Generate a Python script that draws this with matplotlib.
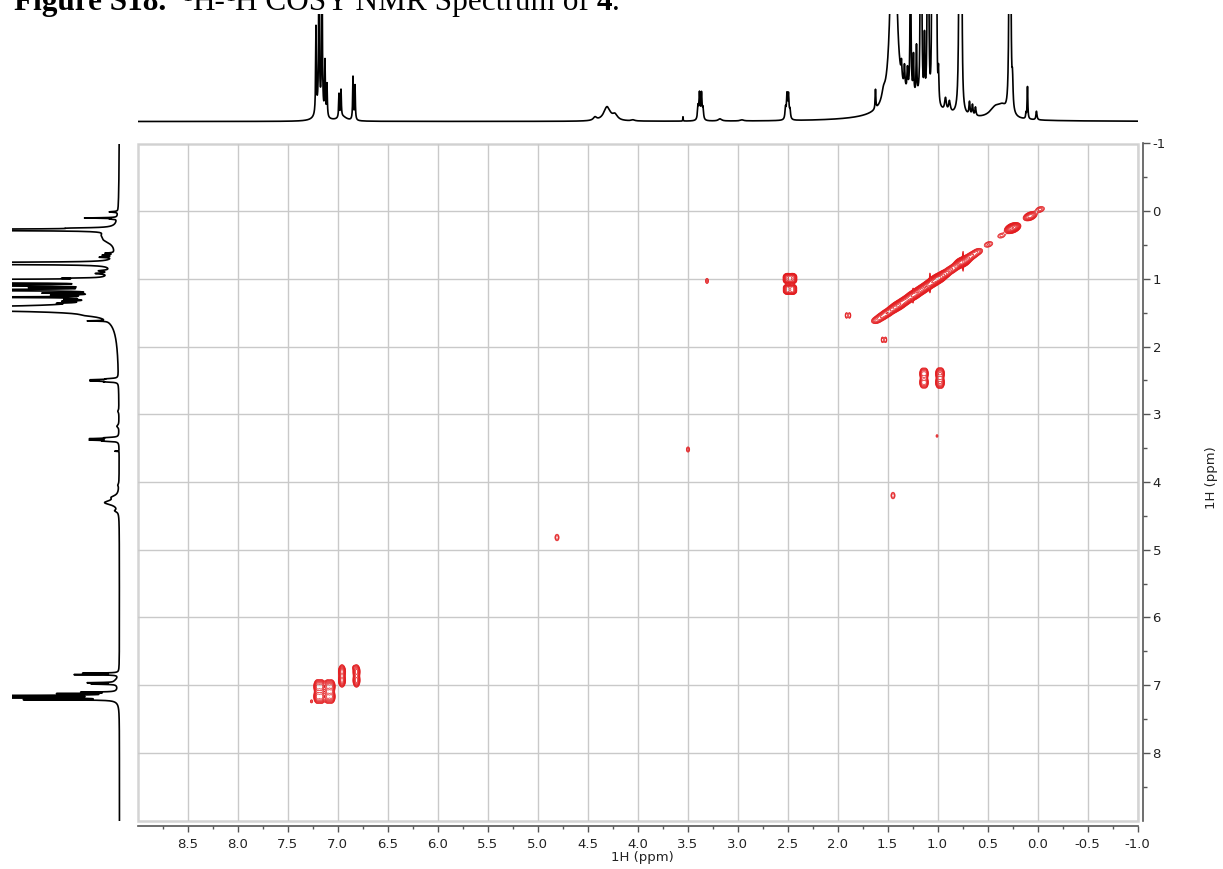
import numpy as np
import matplotlib
matplotlib.use("Agg")
import matplotlib.pyplot as plt
from matplotlib.patches import Rectangle
from matplotlib.ticker import FixedLocator, FuncFormatter

plt.rcParams["axes.unicode_minus"] = False
plt.rcParams["font.family"] = "DejaVu Sans"

# 1D projection peaks (ppm, height relative to clip level, HWHM in ppm)
proj_ppm = [7.215, 7.185, 7.155, 7.125, 7.105, 7.18, 6.985, 6.965, 6.95, 6.845, 6.825,
            4.425, 4.305, 4.225, 4.045, 3.545, 3.395, 3.38, 3.36, 3.345, 3.175, 2.955,
            2.52, 2.505, 2.49, 2.475,
            1.62, 1.54, 1.44, 1.36, 1.33, 1.30, 1.27, 1.24, 1.21, 1.17, 1.16, 1.13, 1.10,
            1.09, 1.055, 1.04, 1.025, 1.01, 0.99, 0.92, 0.88, 1.25,
            0.78, 0.76, 0.68, 0.65, 0.62, 0.42, 0.35, 0.28, 0.27, 0.25, 0.115, 0.10, 0.01]
proj_h = [0.80, 1.60, 1.60, 0.50, 0.30, 0.10, 0.22, 0.25, 0.04, 0.40, 0.32,
          0.03, 0.13, 0.05, 0.01, 0.04, 0.12, 0.24, 0.24, 0.10, 0.02, 0.01,
          0.10, 0.22, 0.22, 0.08,
          0.18, 0.08, 3.00, 0.15, 0.20, 0.20, 2.00, 0.35, 0.45, 2.00, 2.00, 0.55, 2.00,
          2.00, 2.00, 2.00, 2.00, 2.00, 0.30, 0.12, 0.10, 0.18,
          3.00, 2.50, 0.12, 0.10, 0.08, 0.10, 0.08, 3.00, 2.00, 0.25, 0.05, 0.30, 0.08]
proj_w = [0.004, 0.004, 0.004, 0.004, 0.004, 0.04, 0.004, 0.004, 0.05, 0.004, 0.004,
          0.02, 0.04, 0.03, 0.02, 0.002, 0.006, 0.006, 0.006, 0.006, 0.02, 0.02,
          0.006, 0.006, 0.006, 0.006,
          0.004, 0.02, 0.025, 0.005, 0.005, 0.005, 0.004, 0.004, 0.004, 0.004, 0.004, 0.004, 0.004,
          0.004, 0.004, 0.004, 0.004, 0.004, 0.005, 0.01, 0.01, 0.25,
          0.006, 0.005, 0.006, 0.006, 0.006, 0.07, 0.05, 0.005, 0.005, 0.006, 0.004, 0.004, 0.006]

# diagonal ridge of the COSY map (ppm, amplitude)
diag_ppm = [-0.025, 0.065, 0.085, 0.24, 0.26, 0.36, 0.49, 0.60, 0.65, 0.70, 0.745, 0.765,
            0.82, 0.87, 0.93, 0.98, 1.01, 1.05, 1.09, 1.13, 1.17, 1.21, 1.245, 1.29,
            1.33, 1.37, 1.405, 1.45, 1.505, 1.555, 1.605]
diag_amp = [0.10, 0.25, 0.20, 0.80, 0.60, 0.07, 0.09, 0.15, 0.20, 0.30, 1.00, 0.80,
            0.25, 0.30, 0.50, 1.00, 1.00, 0.90, 0.60, 0.60, 0.70, 0.50, 0.80, 0.45,
            0.50, 0.55, 0.70, 0.45, 0.40, 0.30, 0.20]

# off-diagonal cross peaks: F2 ppm, F1 ppm, amplitude, sigma F2, sigma F1
cross_x = [2.45, 2.50, 2.45, 2.50, 2.45, 2.50, 2.45, 2.50,
           3.305, 1.91, 1.88, 1.55, 1.52,
           1.12, 1.15, 1.12, 1.15, 0.96, 0.99, 0.96, 0.99,
           1.005, 3.495, 1.445, 4.805,
           7.20, 7.20, 7.16, 7.16, 7.10, 7.10, 7.06, 7.06,
           6.955, 6.955, 6.81, 6.81, 6.835, 7.26]
cross_y = [0.97, 0.97, 1.02, 1.02, 1.13, 1.13, 1.18, 1.18,
           1.03, 1.54, 1.54, 1.90, 1.90,
           2.40, 2.40, 2.53, 2.53, 2.40, 2.40, 2.53, 2.53,
           3.32, 3.52, 4.20, 4.82,
           7.02, 7.17, 7.02, 7.17, 7.02, 7.17, 7.02, 7.17,
           6.80, 6.93, 6.80, 6.93, 6.74, 7.24]
cross_amp = [0.6, 0.6, 0.6, 0.6, 0.5, 0.5, 0.5, 0.5,
             0.07, 0.08, 0.08, 0.08, 0.08,
             0.25, 0.25, 0.25, 0.25, 0.3, 0.3, 0.3, 0.3,
             0.05, 0.07, 0.08, 0.08,
             0.4, 0.4, 0.4, 0.4, 0.35, 0.35, 0.35, 0.35,
             0.4, 0.4, 0.4, 0.4, 0.06, 0.06]
cross_sx = [0.018] * 8 + [0.012, 0.010, 0.010, 0.010, 0.010] + [0.014] * 8 + \
           [0.010, 0.013, 0.015, 0.015] + [0.017] * 8 + [0.016] * 4 + [0.010, 0.010]
cross_sy = [0.022] * 8 + [0.030, 0.030, 0.030, 0.030, 0.030] + [0.04] * 8 + \
           [0.020, 0.030, 0.035, 0.035] + [0.045] * 8 + [0.045] * 4 + [0.020, 0.020]

# t1 noise streaks through the strongest diagonal lines (F2 ppm, F1 centre)
streak_x = [0.745, 1.075, 1.245]
streak_y = [0.74, 1.06, 1.25]
streak_amp = [0.12, 0.12, 0.06]

W, H = 1223, 869
fig = plt.figure(figsize=(W / 100, H / 100), dpi=100)
PT = 72 / 100  # points per pixel


def fx(px):
    return px / W


def fy(py):
    return 1 - py / H


ax = fig.add_axes([fx(137.5), fy(820.5), 1000 / W, 677 / H])
ax_top = fig.add_axes([fx(137.5), fy(125), 1000 / W, 111 / H])
ax_left = fig.add_axes([fx(12), fy(820.5), 112 / W, 677 / H])

# --- 1D projection trace ---
ppm = np.linspace(-1.0, 9.0, 20001)
spec = np.zeros_like(ppm)
for p, h, w in zip(proj_ppm, proj_h, proj_w):
    spec += h * w ** 2 / ((ppm - p) ** 2 + w ** 2)

ax_top.plot(ppm, spec, color="black", lw=1.2)
ax_top.set_xlim(9.0, -1.0)
ax_top.set_ylim(-0.0325, 1.0)
ax_top.axis("off")

ax_left.plot(spec, ppm, color="black", lw=1.2)
ax_left.set_ylim(9.0, -1.0)
ax_left.set_xlim(1.0, -0.042)
ax_left.axis("off")

# --- 2D map ---
x2 = np.arange(-1.0, 9.0 + 1e-9, 0.004)
y2 = np.arange(-1.0, 9.0 + 1e-9, 0.006)
Z = np.zeros((len(y2), len(x2)))


def add_peak(x0, y0, amp, sx, sy, diagonal=False):
    r = 6 * max(sx, sy)
    ix = np.where(np.abs(x2 - x0) < r)[0]
    iy = np.where(np.abs(y2 - y0) < r)[0]
    if len(ix) == 0 or len(iy) == 0:
        return
    X, Y = np.meshgrid(x2[ix], y2[iy])
    dx, dy = X - x0, Y - y0
    if diagonal:
        u = (dx + dy) / np.sqrt(2)
        v = (dx - dy) / np.sqrt(2)
        g = np.exp(-u ** 2 / (2 * sx ** 2) - v ** 2 / (2 * sy ** 2))
    else:
        g = np.exp(-dx ** 2 / (2 * sx ** 2) - dy ** 2 / (2 * sy ** 2))
    Z[iy[0]:iy[-1] + 1, ix[0]:ix[-1] + 1] += amp * g


for p, a in zip(diag_ppm, diag_amp):
    add_peak(p, p, a, 0.033, 0.024, diagonal=True)
for x0, y0, a, sx, sy in zip(cross_x, cross_y, cross_amp, cross_sx, cross_sy):
    add_peak(x0, y0, a, sx, sy)
for x0, y0, a in zip(streak_x, streak_y, streak_amp):
    add_peak(x0, y0, a, 0.004, 0.09)

levels = 0.03 * 1.4 ** np.arange(13)
ax.contour(x2, y2, Z, levels=levels, colors="#e3191c", linewidths=0.5)

ax.set_xlim(9.0, -1.0)
ax.set_ylim(9.0, -1.0)

grid_c = "#c9c9c9"
ax.xaxis.set_major_locator(FixedLocator(np.arange(-1.0, 8.51, 0.5)))
ax.xaxis.set_minor_locator(FixedLocator(np.arange(-0.75, 9.0, 0.5)))
ax.yaxis.set_major_locator(FixedLocator(np.arange(-1, 9)))
ax.yaxis.set_minor_locator(FixedLocator(np.arange(-0.5, 9.0, 1.0)))
ax.xaxis.set_major_formatter(FuncFormatter(lambda v, _: f"{v:.1f}"))
ax.yaxis.set_major_formatter(FuncFormatter(lambda v, _: f"{v:.0f}"))
ax.grid(True, which="major", color=grid_c, lw=1.0)
ax.set_axisbelow(True)

ax.yaxis.tick_right()
for side in ("top", "left"):
    ax.spines[side].set_visible(False)
for side in ("bottom", "right"):
    ax.spines[side].set_position(("outward", 5 * PT))
    ax.spines[side].set_color("#555555")
    ax.spines[side].set_linewidth(1.2)
ax.add_patch(Rectangle((0, 0), 1, 1, transform=ax.transAxes, fill=False,
                       edgecolor="#d4d4d4", lw=1.8, clip_on=False, zorder=0.5))

ax.tick_params(axis="x", which="major", direction="out", length=6 * PT, width=1,
               color="#555555", labelsize=9.5, pad=7 * PT, labelcolor="#222222")
ax.tick_params(axis="x", which="minor", direction="out", length=3 * PT, width=1, color="#555555")
ax.tick_params(axis="y", which="major", direction="out", length=7 * PT, width=1,
               color="#555555", labelsize=9.5, pad=3 * PT, labelcolor="#222222")
ax.tick_params(axis="y", which="minor", direction="out", length=4 * PT, width=1, color="#555555")

fig.text(fx(642), fy(858), "1H (ppm)", ha="center", va="center", fontsize=9.5, color="#222222")
fig.text(fx(1212), fy(478), "1H (ppm)", ha="center", va="center", fontsize=9.5,
         color="#222222", rotation=90)

# caption line along the top edge
renderer = fig.canvas.get_renderer()
serif = "Liberation Serif"
pieces = [
    ("Figure S18.", dict(fontweight="bold"), 0),
    ("  ", dict(), 0),
    ("1", dict(fontsize=14), 9),
    ("H-", dict(), 0),
    ("1", dict(fontsize=14), 9),
    ("H COSY NMR Spectrum of ", dict(), 0),
    ("4", dict(fontweight="bold"), 0),
    (".", dict(), 0),
]
x_px = 14
for s, kw, rise in pieces:
    opts = dict(fontsize=22.5, family=serif, va="baseline", ha="left")
    opts.update(kw)
    t = fig.text(fx(x_px), fy(10 - rise), s, **opts)
    bb = t.get_window_extent(renderer)
    x_px += bb.width

fig.savefig("out.png", dpi=100)
